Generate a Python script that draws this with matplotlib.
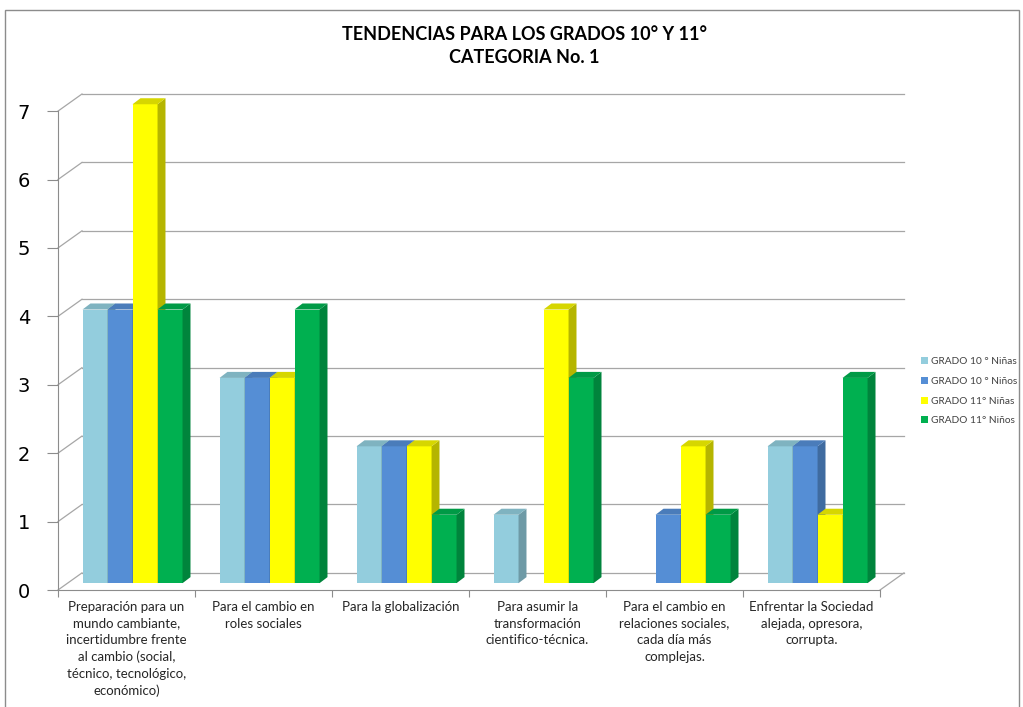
import numpy as np
import matplotlib.pyplot as plt
from matplotlib.patches import Polygon, Rectangle

plt.rcParams['font.family'] = ['Lato', 'DejaVu Sans']

# data
categories = [
    "Preparación para un\nmundo cambiante,\nincertidumbre frente\nal cambio (social,\ntécnico, tecnológico,\neconómico)",
    "Para el cambio en\nroles sociales",
    "Para la globalización",
    "Para asumir la\ntransformación\ncientifico-técnica.",
    "Para el cambio en\nrelaciones sociales,\ncada día más\ncomplejas.",
    "Enfrentar la Sociedad\nalejada, opresora,\ncorrupta.",
]
series_names = ["GRADO 10 ° Niñas", "GRADO 10 ° Niños", "GRADO 11° Niñas", "GRADO 11° Niños"]
ninas_10 = [4, 3, 2, 1, 0, 2]
ninos_10 = [4, 3, 2, 0, 1, 2]
ninas_11 = [7, 3, 2, 4, 2, 1]
ninos_11 = [4, 4, 1, 3, 1, 3]
yticks = [0, 1, 2, 3, 4, 5, 6, 7]

series = [ninas_10, ninos_10, ninas_11, ninos_11]
face_cols = ['#93CDDD', '#558ED5', '#FFFF00', '#00B050']
side_cols = ['#6E9AA6', '#3F6BA0', '#B5B500', '#00843C']
top_cols = ['#7FB3C0', '#4A7CBA', '#D6D600', '#009A46']

# pseudo-3d geometry (data units)
back_dx, back_dy = 0.175, 0.25
bar_dx, bar_dy = 0.044, 0.10
dep_dx, dep_dy = 0.058, 0.088
bar_w = 0.1825
grid_col = '#A6A6A6'

fig = plt.figure(figsize=(10.23, 7.07), dpi=100)
ax = fig.add_axes([58/1023, (707-590)/707, (904-58)/1023, (590-94)/707])
x = np.arange(len(categories))
ax.set_xlim(-0.5, len(categories) - 0.5 + back_dx)
ax.set_ylim(0, 7 + back_dy)

# back wall grid + floor
x0, x1 = -0.5, len(categories) - 0.5
for v in yticks:
    ax.plot([x0 + back_dx, x1 + back_dx], [v + back_dy, v + back_dy], c=grid_col, lw=0.9, zorder=1, clip_on=False)
    ax.plot([x0, x0 + back_dx], [v, v + back_dy], c=grid_col, lw=0.9, zorder=1, clip_on=False)
ax.plot([x1, x1 + back_dx], [0, back_dy], c=grid_col, lw=0.9, zorder=1, clip_on=False)

# bars
offsets = (np.arange(4) - 1.5) * bar_w
for k, vals in enumerate(series):
    for i, v in enumerate(vals):
        if v == 0:
            continue
        left = x[i] + offsets[k] - bar_w / 2 + bar_dx
        right = left + bar_w
        b = bar_dy
        t = v + bar_dy
        ax.add_patch(Polygon([(left, b), (right, b), (right, t), (left, t)],
                             closed=True, fc=face_cols[k], ec='none', zorder=3 + i * 0.01))
        ax.add_patch(Polygon([(right, b), (right + dep_dx, b + dep_dy), (right + dep_dx, t + dep_dy), (right, t)],
                             closed=True, fc=side_cols[k], ec='none', zorder=3 + i * 0.01, clip_on=False))
        ax.add_patch(Polygon([(left, t), (right, t), (right + dep_dx, t + dep_dy), (left + dep_dx, t + dep_dy)],
                             closed=True, fc=top_cols[k], ec='none', zorder=3 + i * 0.01, clip_on=False))

# axes
for s in ['top', 'right']:
    ax.spines[s].set_visible(False)
ax.spines['left'].set_bounds(0, 7)
ax.spines['bottom'].set_bounds(x0, x1)
ax.spines['left'].set_color('#8C8C8C')
ax.spines['bottom'].set_color('#8C8C8C')
ax.set_yticks(yticks)
ax.set_yticklabels([str(t) for t in yticks], fontsize=14, family=['DejaVu Sans'])
ax.tick_params(axis='y', length=8, color='#8C8C8C', pad=12)
ax.set_xticks(np.arange(len(categories) + 1) - 0.5)
ax.set_xticklabels([])
ax.tick_params(axis='x', which='major', length=5, color='#8C8C8C')
ax.set_xticks(x, minor=True)
ax.set_xticklabels(categories, minor=True, fontsize=9.5, linespacing=1.45, color='#262626')
ax.tick_params(axis='x', which='minor', length=0, pad=8)
ax.patch.set_visible(False)

# legend
handles = [Rectangle((0, 0), 1, 1, fc=c, ec='none') for c in face_cols]
fig.legend(handles, series_names, loc='upper left', bbox_to_anchor=(912/1023, 1 - 348/707),
           frameon=False, fontsize=7.3, handlelength=0.7, handleheight=0.7, handletextpad=0.3,
           labelspacing=1.05, labelcolor='#404040')

fig.text(524/1023, 1 - 46/707, "TENDENCIAS PARA LOS GRADOS 10° Y 11°\nCATEGORIA No. 1",
         ha='center', va='center', fontsize=13, fontweight='bold', linespacing=1.45)

# outer chart frame
fig.patches.append(Rectangle((5/1023, -0.01), (1019-5)/1023, 1.01 - 10/707, transform=fig.transFigure,
                             fill=False, ec='#8C8C8C', lw=1))

plt.savefig("out.png", dpi=100)
